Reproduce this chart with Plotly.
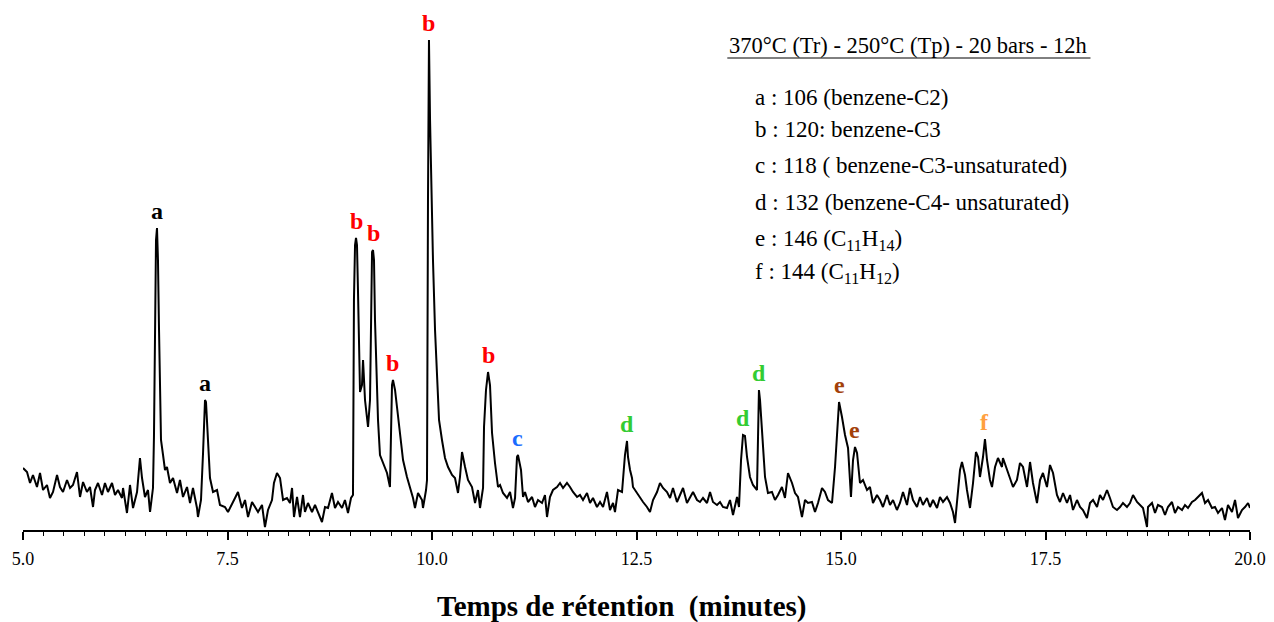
import plotly.graph_objects as go

# Retention time (minutes) and detector signal (arbitrary units)
time_min = [
    5.000, 5.049, 5.086, 5.122, 5.171, 5.208, 5.245, 5.293, 5.330, 5.367, 5.416, 5.452, 5.489, 5.538,
    5.575, 5.611, 5.660, 5.697, 5.734, 5.782, 5.819, 5.856, 5.880, 5.917, 5.966, 6.002, 6.039, 6.088,
    6.125, 6.161, 6.210, 6.223, 6.271, 6.308, 6.345, 6.394, 6.430, 6.455, 6.491, 6.528, 6.553, 6.589,
    6.601, 6.614, 6.626, 6.638, 6.650, 6.663, 6.675, 6.687, 6.712, 6.736, 6.760, 6.797, 6.834, 6.883,
    6.919, 6.956, 7.005, 7.042, 7.078, 7.127, 7.139, 7.176, 7.201, 7.225, 7.237, 7.262, 7.286, 7.323,
    7.372, 7.408, 7.469, 7.506, 7.555, 7.592, 7.628, 7.677, 7.714, 7.751, 7.800, 7.836, 7.873, 7.922,
    7.958, 7.995, 8.044, 8.068, 8.105, 8.142, 8.179, 8.227, 8.264, 8.289, 8.313, 8.350, 8.386, 8.423,
    8.447, 8.484, 8.533, 8.570, 8.606, 8.655, 8.692, 8.729, 8.777, 8.814, 8.851, 8.900, 8.936, 8.973,
    9.010, 9.034, 9.046, 9.059, 9.071, 9.083, 9.095, 9.108, 9.120, 9.144, 9.157, 9.181, 9.218, 9.242,
    9.254, 9.267, 9.279, 9.291, 9.303, 9.328, 9.340, 9.364, 9.401, 9.450, 9.486, 9.499, 9.511, 9.523,
    9.548, 9.572, 9.609, 9.646, 9.694, 9.731, 9.768, 9.792, 9.829, 9.878, 9.890, 9.927, 9.939, 9.951,
    9.963, 9.976, 9.988, 10.012, 10.037, 10.061, 10.086, 10.122, 10.159, 10.196, 10.245, 10.281, 10.318,
    10.342, 10.367, 10.404, 10.440, 10.489, 10.526, 10.562, 10.587, 10.624, 10.636, 10.660, 10.685,
    10.709, 10.734, 10.770, 10.807, 10.832, 10.868, 10.917, 10.954, 10.990, 11.015, 11.039, 11.051,
    11.088, 11.113, 11.137, 11.174, 11.223, 11.259, 11.296, 11.345, 11.381, 11.406, 11.442, 11.479,
    11.528, 11.565, 11.602, 11.650, 11.687, 11.724, 11.773, 11.809, 11.846, 11.895, 11.932, 11.968,
    12.017, 12.054, 12.091, 12.139, 12.176, 12.213, 12.237, 12.274, 12.323, 12.335, 12.359, 12.384,
    12.396, 12.421, 12.445, 12.457, 12.506, 12.543, 12.580, 12.628, 12.665, 12.702, 12.751, 12.787,
    12.824, 12.873, 12.910, 12.946, 12.995, 13.032, 13.069, 13.117, 13.154, 13.191, 13.240, 13.276,
    13.313, 13.362, 13.399, 13.435, 13.484, 13.521, 13.557, 13.606, 13.643, 13.680, 13.729, 13.753,
    13.778, 13.790, 13.802, 13.826, 13.851, 13.887, 13.924, 13.973, 13.985, 13.997, 14.010, 14.034,
    14.046, 14.071, 14.107, 14.156, 14.193, 14.230, 14.278, 14.315, 14.352, 14.401, 14.438, 14.474,
    14.523, 14.560, 14.596, 14.645, 14.682, 14.719, 14.768, 14.804, 14.841, 14.890, 14.927, 14.951,
    14.976, 15.012, 15.049, 15.086, 15.122, 15.147, 15.171, 15.196, 15.232, 15.269, 15.318, 15.354,
    15.391, 15.440, 15.477, 15.513, 15.562, 15.599, 15.636, 15.684, 15.721, 15.758, 15.807, 15.843,
    15.880, 15.929, 15.966, 16.002, 16.051, 16.088, 16.125, 16.174, 16.210, 16.247, 16.296, 16.333,
    16.369, 16.394, 16.418, 16.455, 16.479, 16.516, 16.540, 16.577, 16.614, 16.650, 16.675, 16.699,
    16.736, 16.760, 16.785, 16.821, 16.846, 16.883, 16.919, 16.968, 16.980, 17.029, 17.066, 17.103,
    17.151, 17.188, 17.225, 17.274, 17.311, 17.347, 17.396, 17.433, 17.469, 17.518, 17.555, 17.592,
    17.640, 17.677, 17.714, 17.763, 17.800, 17.836, 17.885, 17.922, 17.958, 18.007, 18.044, 18.081,
    18.130, 18.166, 18.203, 18.252, 18.288, 18.325, 18.374, 18.411, 18.447, 18.496, 18.533, 18.570,
    18.619, 18.655, 18.692, 18.741, 18.753, 18.802, 18.839, 18.875, 18.924, 18.961, 18.997, 19.046,
    19.083, 19.120, 19.169, 19.205, 19.242, 19.291, 19.328, 19.364, 19.413, 19.450, 19.487, 19.535,
    19.572, 19.609, 19.658, 19.694, 19.731, 19.780, 19.817, 19.853, 19.902, 19.939, 19.976, 20.000,
]
signal = [
    62, 58, 47, 55, 43, 57, 40, 45, 32, 38, 55, 43, 38, 50,
    42, 45, 58, 33, 48, 38, 43, 23, 40, 47, 35, 47, 38, 47,
    35, 40, 32, 42, 17, 45, 22, 38, 72, 52, 33, 40, 18, 42,
    93, 230, 290, 302, 270, 200, 130, 90, 75, 60, 63, 47, 52, 37,
    50, 33, 43, 27, 42, 22, 13, 30, 77, 130, 128, 90, 52, 38,
    40, 25, 23, 18, 27, 32, 38, 22, 30, 13, 28, 23, 18, 25,
    3, 20, 30, 47, 57, 52, 30, 32, 27, 42, 13, 33, 13, 35,
    18, 27, 18, 25, 17, 8, 23, 22, 37, 22, 28, 22, 30, 17,
    32, 35, 230, 285, 292, 285, 240, 200, 138, 145, 170, 130, 103, 130,
    210, 278, 280, 270, 210, 130, 110, 75, 67, 57, 43, 110, 145, 150,
    140, 123, 93, 70, 53, 43, 32, 22, 37, 30, 22, 40, 50, 330,
    490, 410, 360, 270, 200, 150, 110, 90, 72, 63, 55, 52, 37,
    53, 78, 63, 50, 43, 27, 40, 22, 42, 103, 140, 158,
    145, 97, 67, 43, 45, 37, 32, 38, 22, 32, 73, 75,
    60, 33, 38, 28, 33, 23, 30, 27, 35, 13, 33, 40,
    43, 47, 42, 47, 43, 38, 33, 35, 30, 37, 27, 32,
    23, 28, 23, 38, 20, 27, 18, 40, 38, 53, 75, 89,
    73, 60, 52, 43, 37, 32, 28, 23, 18, 30, 38, 47,
    42, 38, 32, 42, 28, 35, 42, 27, 32, 38, 30, 28,
    32, 27, 38, 28, 25, 28, 23, 22, 30, 15, 33, 23,
    70, 90, 95, 94, 73, 53, 45, 40, 90, 140, 130, 97,
    90, 53, 37, 38, 30, 35, 43, 32, 57, 47, 37, 33,
    13, 30, 27, 28, 18, 27, 42, 38, 30, 27, 63, 100,
    128, 113, 95, 82, 33, 70, 83, 77, 47, 50, 40, 43,
    27, 35, 30, 23, 35, 25, 30, 20, 27, 38, 25, 42,
    30, 23, 33, 25, 32, 23, 30, 22, 33, 28, 33, 27,
    18, 7, 30, 60, 68, 55, 40, 22, 47, 78, 73, 53,
    73, 91, 70, 50, 43, 63, 72, 63, 72, 60, 53, 43,
    50, 67, 63, 43, 68, 47, 27, 50, 57, 43, 65, 57,
    35, 28, 37, 27, 35, 20, 30, 23, 20, 12, 27, 30,
    23, 35, 30, 40, 32, 23, 20, 23, 27, 23, 27, 35,
    28, 25, 22, 3, 23, 27, 17, 25, 23, 15, 23, 28,
    17, 23, 20, 25, 22, 28, 30, 33, 37, 27, 30, 22,
    23, 17, 22, 10, 25, 18, 30, 12, 20, 23, 27, 22,
]

# Peak labels: letter, retention time of the apex, apex signal
peak_letters = ["a", "a", "b", "b", "b", "b", "b", "c", "d", "d", "d", "e", "e", "f"]
peak_times = [6.638, 7.225, 9.071, 9.279, 9.523, 9.963, 10.685, 11.051, 12.384, 13.802, 13.997, 14.976, 15.171, 16.760]
peak_heights = [302, 130, 292, 280, 150, 490, 158, 75, 89, 95, 140, 128, 83, 91]

letter_colors = {"a": "#000000", "b": "#ff0000", "c": "#1a6cff", "d": "#33cc33",
                 "e": "#a3410a", "f": "#ffa040"}

condition_title = "370°C (Tr) - 250°C (Tp) - 20 bars - 12h"
legend_lines = [
    "a : 106 (benzene-C2)",
    "b : 120: benzene-C3",
    "c : 118 ( benzene-C3-unsaturated)",
    "d : 132 (benzene-C4- unsaturated)",
    "e : 146 (C<sub>11</sub>H<sub>14</sub>)",
    "f : 144 (C<sub>11</sub>H<sub>12</sub>)",
]
legend_y = [0.866, 0.800, 0.730, 0.656, 0.580, 0.514]

x_ticks = [5.0, 7.5, 10.0, 12.5, 15.0, 17.5, 20.0]
x_title = "Temps de rétention  (minutes)"

SERIF = "Liberation Serif"

fig = go.Figure()
fig.add_trace(go.Scatter(x=time_min, y=signal, mode="lines",
                         line=dict(color="black", width=2), hoverinfo="x+y",
                         showlegend=False))

for lt, pt, ph in zip(peak_letters, peak_times, peak_heights):
    fig.add_annotation(x=pt, y=ph, text=f"<b>{lt}</b>", showarrow=False,
                       xanchor="center", yanchor="bottom", yshift=2,
                       font=dict(family=SERIF, size=24, color=letter_colors[lt]))

fig.add_annotation(xref="paper", yref="paper", x=0.574, y=0.970, text=condition_title,
                   showarrow=False, xanchor="left", yanchor="middle",
                   font=dict(family=SERIF, size=22.5, color="black"))
fig.add_shape(type="line", xref="paper", yref="paper", x0=0.574, x1=0.870, y0=0.944, y1=0.944,
              line=dict(color="black", width=1))

for txt, yy in zip(legend_lines, legend_y):
    fig.add_annotation(xref="paper", yref="paper", x=0.595, y=yy, text=txt,
                       showarrow=False, xanchor="left", yanchor="middle",
                       font=dict(family=SERIF, size=23, color="black"))

# axis title (slightly left of the axis centre, as in the original)
fig.add_annotation(xref="paper", yref="paper", x=0.488, y=-0.152, text=f"<b>{x_title}</b>",
                   showarrow=False, xanchor="center", yanchor="middle",
                   font=dict(family=SERIF, size=29, color="black"))

fig.update_layout(
    width=1274, height=622,
    margin=dict(l=23, r=24, t=30, b=92),
    paper_bgcolor="white", plot_bgcolor="white",
    xaxis=dict(range=[5.0, 20.0], tickvals=x_ticks, ticktext=[f"{v:.1f}" for v in x_ticks],
               automargin=False,
               showgrid=False, zeroline=False, showline=True, linecolor="black", linewidth=1.5,
               ticks="outside", ticklen=8, tickwidth=1.5, tickcolor="black",
               ticklabelstandoff=4,
               minor=dict(dtick=0.25, tick0=5.0, ticks="outside", ticklen=4, tickwidth=1,
                          tickcolor="black", showgrid=False),
               tickfont=dict(family=SERIF, size=18, color="black")),
    yaxis=dict(range=[0, 500], visible=False, automargin=False),
)

fig.write_html("out.html", config={"displayModeBar": False},
               post_script="document.body.style.margin='0px';")
